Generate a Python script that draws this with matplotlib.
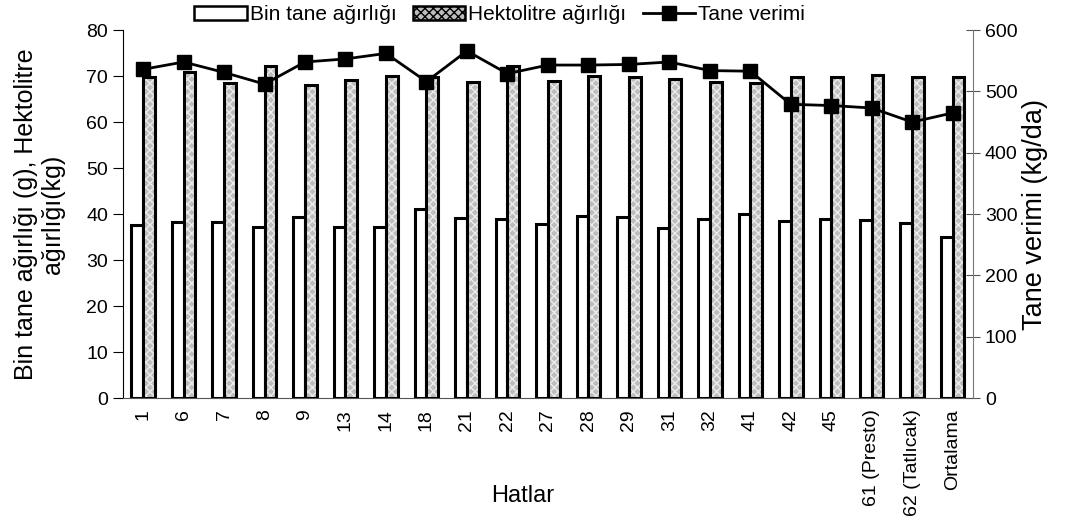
import numpy as np
import matplotlib.pyplot as plt
from matplotlib.patches import Patch

plt.rcParams['font.family'] = ['Liberation Sans', 'DejaVu Sans']

# data
hatlar = ['1', '6', '7', '8', '9', '13', '14', '18', '21', '22', '27', '28',
          '29', '31', '32', '41', '42', '45', '61 (Presto)', '62 (Tatlıcak)',
          'Ortalama']
bin_tane = [37.7, 38.3, 38.3, 37.1, 39.3, 37.2, 37.1, 41.2, 39.1, 39.0, 37.8,
            39.5, 39.3, 37.0, 38.9, 40.1, 38.5, 38.9, 38.7, 38.1, 35.0]
hektolitre = [69.8, 70.8, 68.6, 72.1, 68.0, 69.2, 70.1, 69.8, 68.8, 72.1, 69.0,
              70.1, 69.8, 69.4, 68.8, 68.5, 69.7, 69.9, 70.2, 69.9, 69.7]
tane_verimi = [536, 548, 531, 512, 548, 553, 562, 516, 566, 529, 543, 543,
               544, 548, 534, 533, 479, 477, 473, 450, 465]

x = np.arange(len(hatlar))
w = 0.29

fig = plt.figure(figsize=(10.68, 5.28), dpi=100)
ax = fig.add_axes([0.115, 0.246, 0.796, 0.697])

ax.bar(x - w/2, bin_tane, w, color='white', edgecolor='black', lw=2.2,
       zorder=2)
# hatched fill, then a black outline on top
ax.bar(x + w/2, hektolitre, w, color='#bdbdbd', edgecolor='#ececec',
       hatch='xxxx', lw=0, zorder=2)
ax.bar(x + w/2, hektolitre, w, color='none', edgecolor='black', lw=2.2,
       zorder=3)

ax.set_xlim(-0.5, len(hatlar) - 0.5)
ax.set_ylim(0, 80)
ax.set_yticks(np.arange(0, 81, 10))
ax.set_xticks(x)
ax.set_xticklabels(hatlar, rotation=90, fontsize=14)
ax.tick_params(axis='x', length=0, pad=8)
ax.tick_params(axis='y', labelsize=14, direction='out', length=7, width=0.8)
ax.spines['top'].set_visible(False)
ax.spines['right'].set_visible(False)
ax.spines['bottom'].set_color('#555555')
ax.set_xlabel('Hatlar', fontsize=17)
ax.xaxis.set_label_coords(0.47, -0.235)
ax.set_ylabel('Bin tane ağırlığı (g), Hektolitre\nağırlığı(kg)', fontsize=18,
              linespacing=1.15)
ax.yaxis.set_label_coords(-0.068, 0.5)

ax2 = ax.twinx()
l1, = ax2.plot(x, tane_verimi, color='black', lw=2, marker='s', ms=10.5,
               zorder=5)
ax2.set_ylim(0, 600)
ax2.set_yticks(np.arange(0, 601, 100))
ax2.tick_params(axis='y', labelsize=14, direction='inout', length=10,
                width=0.8, color='#555555')
ax2.spines['top'].set_visible(False)
ax2.spines['left'].set_visible(False)
ax2.spines['bottom'].set_visible(False)
ax2.spines['right'].set_color('#777777')
ax2.set_ylabel('Tane verimi (kg/da)', fontsize=19.5)
ax2.yaxis.set_label_coords(1.058, 0.5)

h_hek = Patch(facecolor='#bdbdbd', edgecolor='black', hatch='xxxx', lw=1.8)
h_bin = Patch(facecolor='white', edgecolor='black', lw=1.8)
fig.legend([h_bin, h_hek, l1], ['Bin tane ağırlığı', 'Hektolitre ağırlığı',
                                 'Tane verimi'],
           loc='center', bbox_to_anchor=(0.468, 0.972), ncol=3, frameon=False,
           fontsize=15, handlelength=2.5, handleheight=0.7, columnspacing=0.8,
           handletextpad=0.15, borderpad=0)

fig.savefig('out.png', dpi=100)
